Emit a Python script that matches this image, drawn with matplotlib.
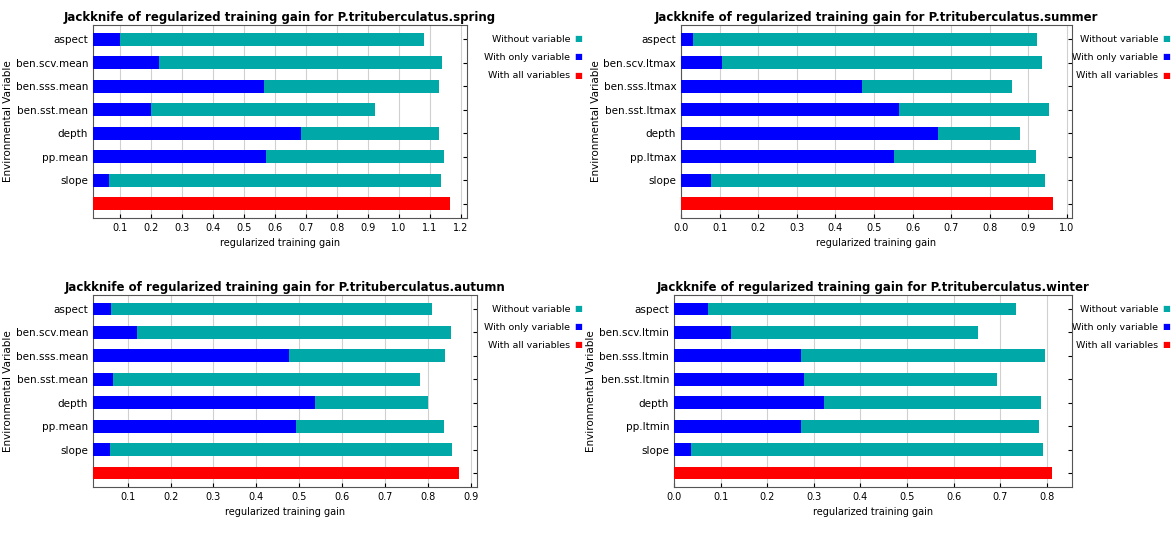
import numpy as np
import matplotlib.pyplot as plt

titles = ['Jackknife of regularized training gain for P.trituberculatus.spring',
          'Jackknife of regularized training gain for P.trituberculatus.summer',
          'Jackknife of regularized training gain for P.trituberculatus.autumn',
          'Jackknife of regularized training gain for P.trituberculatus.winter']

vars_spring = ['aspect', 'ben.scv.mean', 'ben.sss.mean', 'ben.sst.mean', 'depth', 'pp.mean', 'slope']
vars_summer = ['aspect', 'ben.scv.ltmax', 'ben.sss.ltmax', 'ben.sst.ltmax', 'depth', 'pp.ltmax', 'slope']
vars_autumn = ['aspect', 'ben.scv.mean', 'ben.sss.mean', 'ben.sst.mean', 'depth', 'pp.mean', 'slope']
vars_winter = ['aspect', 'ben.scv.ltmin', 'ben.sss.ltmin', 'ben.sst.ltmin', 'depth', 'pp.ltmin', 'slope']

without_spring = [1.08, 1.14, 1.13, 0.923, 1.13, 1.147, 1.136]
only_spring = [0.10, 0.226, 0.565, 0.202, 0.686, 0.571, 0.066]
all_spring = 1.164

without_summer = [0.922, 0.935, 0.857, 0.954, 0.878, 0.92, 0.944]
only_summer = [0.03, 0.105, 0.47, 0.564, 0.667, 0.552, 0.078]
all_summer = 0.964

without_autumn = [0.811, 0.854, 0.841, 0.783, 0.80, 0.837, 0.856]
only_autumn = [0.06, 0.122, 0.476, 0.066, 0.537, 0.493, 0.058]
all_autumn = 0.873

without_winter = [0.733, 0.652, 0.796, 0.693, 0.788, 0.784, 0.791]
only_winter = [0.072, 0.123, 0.273, 0.278, 0.321, 0.273, 0.036]
all_winter = 0.812

panels = [
    (vars_spring, without_spring, only_spring, all_spring, (0.014, 1.22), np.arange(0.1, 1.21, 0.1)),
    (vars_summer, without_summer, only_summer, all_summer, (0.0, 1.013), np.arange(0.0, 1.01, 0.1)),
    (vars_autumn, without_autumn, only_autumn, all_autumn, (0.019, 0.915), np.arange(0.1, 0.91, 0.1)),
    (vars_winter, without_winter, only_winter, all_winter, (0.0, 0.854), np.arange(0.0, 0.81, 0.1)),
]

W, H = 1176, 538
fig = plt.figure(figsize=(W / 100, H / 100), dpi=100)
boxes = [(93, 25, 467, 218), (681, 25, 1072, 218), (93, 295, 477, 487), (674, 295, 1072, 487)]
legend_right = [570, 1158, 570, 1158]
teal, blue, red = '#00a8a8', '#0000ff', '#ff0000'

for (names, wo, only, allv, xlim, ticks), title, (x0, y0, x1, y1), lr in zip(panels, titles, boxes, legend_right):
    ax = fig.add_axes([x0 / W, 1 - y1 / H, (x1 - x0) / W, (y1 - y0) / H])
    n = len(names)
    y = np.arange(n)
    ax.barh(y, wo, height=0.55, color=teal, zorder=2)
    ax.barh(y, only, height=0.55, color=blue, zorder=3)
    ax.barh([n], [allv], height=0.55, color=red, zorder=3)
    ax.set_ylim(n + 0.6, -0.6)
    ax.set_xlim(*xlim)
    ax.set_yticks(list(y) + [n])
    ax.set_yticklabels(names + [''], fontsize=7.5)
    ax.set_xticks(ticks)
    ax.set_xticklabels(['%.1f' % t for t in ticks], fontsize=7)
    ax.tick_params(right=True, direction='in', length=3)
    ax.grid(axis='x', color='#d0d0d0', lw=0.8, zorder=0)
    ax.set_title(title, fontsize=8.5, fontweight='bold', pad=3)
    ax.set_xlabel('regularized training gain', fontsize=7)
    ax.set_ylabel('Environmental Variable', fontsize=7.5, labelpad=2)
    for s in ax.spines.values():
        s.set_color('#555555')
    # legend text on the right
    for k, (lab, c) in enumerate([('Without variable', teal), ('With only variable', blue), ('With all variables', red)]):
        yy = 1 - (y0 + 14 + k * 18) / H
        fig.text(lr / W, yy, lab, ha='right', va='center', fontsize=6.8)
        fig.text((lr + 4) / W, yy, '\u25a0', color=c, ha='left', va='center', fontsize=6)

fig.savefig('out.png', dpi=100)
